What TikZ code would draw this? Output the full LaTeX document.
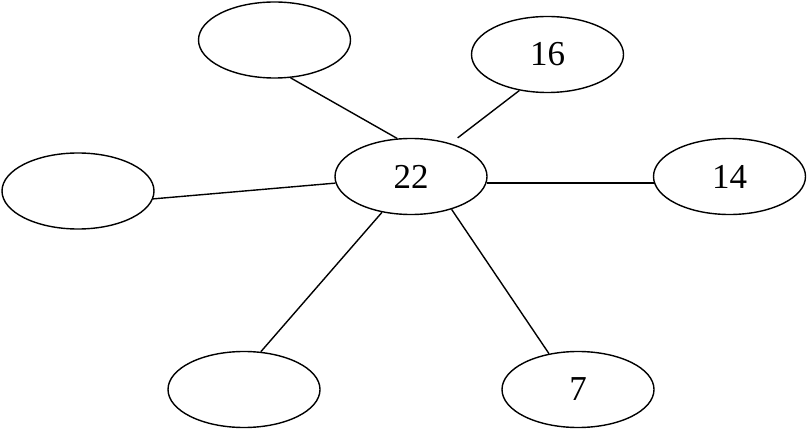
\documentclass[tikz,border=0pt]{standalone}
\usepackage{fontspec}
\setmainfont{Liberation Serif}
\usetikzlibrary{shapes.geometric}
\newcommand{\snum}[1]{\fontsize{35}{40}\selectfont #1}

\begin{document}
\begin{tikzpicture}[x=1pt,y=-1pt,line width=1.4pt,
    every node/.style={ellipse,draw,line width=1.4pt,minimum width=152pt,minimum height=76pt,inner sep=0pt}]
	\useasboundingbox (0,0) rectangle (808,430);
		\node (c)  at (411,176.5) {\snum{22}};
		\node (t1) at (274.5,40) {};
		\node (t2) at (547.5,54.5) {\snum{16}};
		\node (r1) at (729.5,176.5) {\snum{14}};
		\node (l1) at (78,191) {};
		\node (b1) at (244,389.5) {};
		\node (b2) at (578,389.5) {\snum{7}};
		\draw (t1.293) -- (c.110);
		\draw[shorten >=9pt] (t2.232) -- (c.40);
		\draw (c.-5) -- (r1.185);
		\draw (l1.354) -- (c.185);
		\draw (b1.66) -- (c.231);
		\draw (b2.129) -- (c.321);
	\end{tikzpicture}
\end{document}
